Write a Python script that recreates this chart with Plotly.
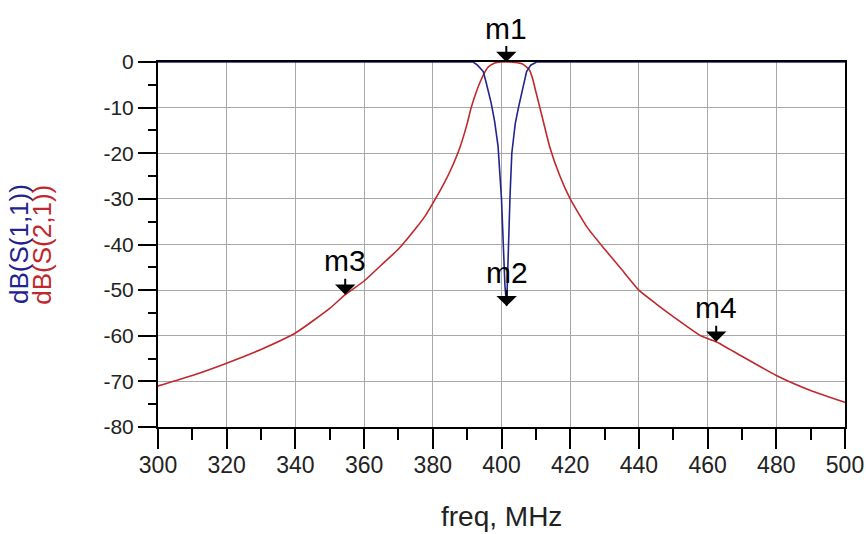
import plotly.graph_objects as go

# ---- data ----
freq_s21 = [300, 310, 320, 330, 340, 350, 354.5, 360, 365, 370, 375, 378, 380, 383, 385, 388, 390, 391,
            392, 394, 396, 398, 400, 402, 404, 406, 408, 409, 410, 411, 412, 414, 417, 420,
            425, 430, 435, 440, 445, 450, 458, 462.5, 470, 480, 490, 500]
s21_db = [-71, -68.7, -66, -63, -59.4, -54, -51, -48, -44.5, -41, -36.5, -33.5, -31, -27, -24, -18.5, -13.5, -10.5,
          -8, -4, -1.2, -0.2, 0, 0, -0.1, -0.4, -1.6, -3.5, -6.5, -9.5, -12.5, -18.5, -25, -30,
          -36.3, -41, -45.5, -50, -53, -55.8, -60, -61.3, -64.5, -68.7, -72, -74.6]

freq_s11 = [300, 350, 390, 391.8, 393, 394.7, 395.6, 397, 398, 399, 400, 400.5, 401, 401.5,
            402, 402.5, 403, 404, 405, 406.4, 407.3, 408.5, 410.2, 450, 500]
s11_db = [0, 0, 0, 0, -0.7, -2.1, -4.7, -9, -13, -18.5, -30, -40, -49, -53.5,
          -40, -29, -20, -13.5, -9.8, -4.7, -2.1, -0.7, 0, 0, 0]

marker_names = ["m1", "m2", "m3", "m4"]
marker_freqs = [401.4, 401.5, 354.5, 462.5]
marker_vals = [0, -53.5, -51, -61.3]

x_ticks = list(range(300, 501, 20))
y_ticks = list(range(-80, 1, 10))

FONT = "Liberation Sans, Arial, sans-serif"
BLUE = "#23238f"
RED = "#c0282d"

fig = go.Figure()
fig.add_trace(go.Scatter(x=freq_s21, y=s21_db, mode="lines", name="dB(S(2,1))",
                         line=dict(color=RED, width=1.6, shape="spline", smoothing=0.5)))
fig.add_trace(go.Scatter(x=freq_s11, y=s11_db, mode="lines", name="dB(S(1,1))",
                         line=dict(color=BLUE, width=1.6)))

for name, f, v in zip(marker_names, marker_freqs, marker_vals):
    fig.add_annotation(x=f, y=v, xref="x", yref="y", text=name, showarrow=True,
                       arrowhead=1, arrowsize=1.7, arrowwidth=2, arrowcolor="black",
                       ax=0, ay=-34, font=dict(family=FONT, size=30, color="black"))

fig.add_annotation(x=0.5, y=-0.245, xref="paper", yref="paper", text="freq, MHz",
                   showarrow=False, font=dict(family=FONT, size=28, color="#222"),
                   xanchor="center", yanchor="middle")
fig.add_annotation(x=-0.203, y=0.5, xref="paper", yref="paper", text="dB(S(1,1))",
                   showarrow=False, textangle=-90, font=dict(family=FONT, size=26, color=BLUE),
                   xanchor="center", yanchor="middle")
fig.add_annotation(x=-0.170, y=0.5, xref="paper", yref="paper", text="dB(S(2,1))",
                   showarrow=False, textangle=-90, font=dict(family=FONT, size=26, color=RED),
                   xanchor="center", yanchor="middle")

fig.update_layout(
    width=866, height=534,
    margin=dict(l=158, r=21, t=62, b=107, autoexpand=False),
    paper_bgcolor="white", plot_bgcolor="white",
    showlegend=False,
    font=dict(family=FONT, color="#222"),
)
fig.update_xaxes(range=[300, 500], tickmode="array", tickvals=x_ticks,
                 ticktext=[str(t) for t in x_ticks], automargin=False,
                 showgrid=True, gridcolor="#a8a8a8", gridwidth=1.2,
                 showline=True, linecolor="black", linewidth=2, mirror=True,
                 ticks="outside", ticklen=20, tickwidth=2, tickcolor="black",
                 ticklabelstandoff=-4,
                 tickfont=dict(family=FONT, size=23, color="#222"),
                 minor=dict(ticks="outside", ticklen=11, tickwidth=2, tickcolor="black",
                            dtick=10, tick0=300, showgrid=False),
                 zeroline=False)
fig.update_yaxes(range=[-80, 0], tickmode="array", tickvals=y_ticks,
                 ticktext=[str(t) for t in y_ticks], automargin=False,
                 showgrid=True, gridcolor="#a8a8a8", gridwidth=1.2,
                 showline=True, linecolor="black", linewidth=2, mirror=True,
                 ticks="outside", ticklen=18, tickwidth=2, tickcolor="black",
                 tickfont=dict(family=FONT, size=21, color="#222"),
                 minor=dict(ticks="outside", ticklen=8, tickwidth=2, tickcolor="black",
                            dtick=5, tick0=0, showgrid=False),
                 zeroline=False)

# remove the browser's default 8 px body margin so the 866x534 figure fills the window
fig.write_html("out.html", config={"displayModeBar": False},
               post_script="document.body.style.margin='0';document.body.style.overflow='hidden';")
